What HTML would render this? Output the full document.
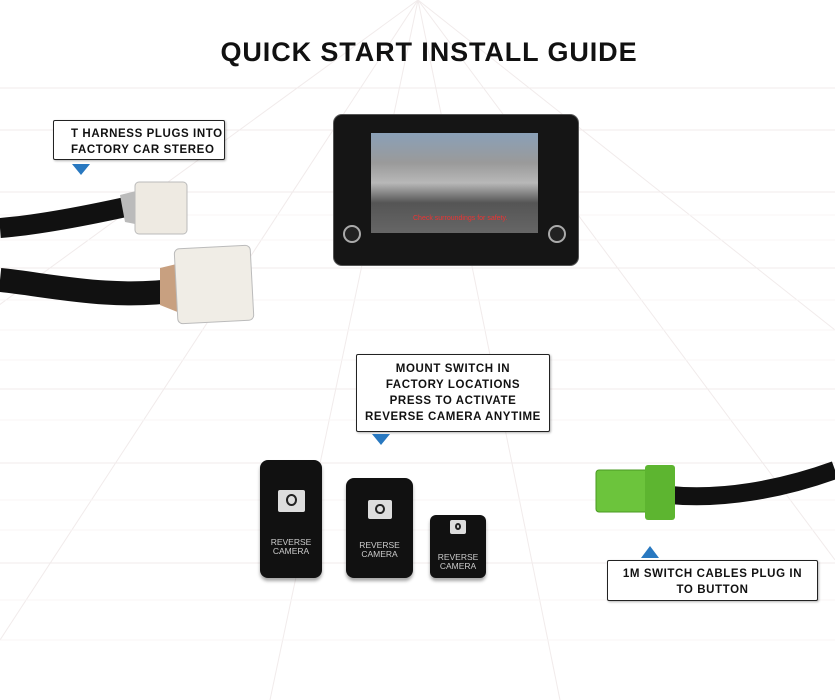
<!DOCTYPE html>
<html><head><meta charset="utf-8"><style>
body{margin:0;width:835px;height:700px;background:#fff;position:relative;overflow:hidden;font-family:"Liberation Sans",sans-serif}
.a{position:absolute}
.title{left:0;width:858px;top:37px;text-align:center;font-weight:900;font-size:27px;letter-spacing:0.9px;color:#111}
.box{position:absolute;background:#fff;border:1.5px solid #222;border-radius:2px;box-shadow:1px 1px 2px rgba(0,0,0,.3);font-weight:bold;font-size:11.5px;letter-spacing:.6px;color:#111;line-height:16px}
.tri{position:absolute;width:0;height:0;border-left:9px solid transparent;border-right:9px solid transparent}
.sw{position:absolute;background:#111;border-radius:8px;box-shadow:0 3px 3px rgba(0,0,0,.35);color:#ccc;font-size:8.5px;text-align:center;line-height:9px}
.cam{position:absolute;background:#ddd;border-radius:2px}
.cam:after{content:"";position:absolute;left:30%;top:20%;width:40%;height:55%;border:2px solid #222;border-radius:50%;box-sizing:border-box}
</style></head><body>
<svg class="a" style="left:0;top:0" width="835" height="700">
<g stroke="#f1ebeb" stroke-width="1">
<line x1="0" y1="88" x2="835" y2="88"/><line x1="0" y1="130" x2="835" y2="130"/>
<line x1="0" y1="192" x2="835" y2="192"/><line x1="0" y1="268" x2="835" y2="268"/>
<line x1="0" y1="389" x2="835" y2="389"/><line x1="0" y1="463" x2="835" y2="463"/>
<line x1="0" y1="563" x2="835" y2="563"/>
<line x1="418" y1="0" x2="0" y2="640"/><line x1="418" y1="0" x2="270" y2="700"/>
<line x1="418" y1="0" x2="-200" y2="450"/><line x1="418" y1="0" x2="560" y2="700"/>
<line x1="418" y1="0" x2="835" y2="560"/><line x1="418" y1="0" x2="835" y2="330"/>
</g>
<g stroke="#f8f5f5" stroke-width="1">
<line x1="0" y1="215" x2="835" y2="215"/><line x1="0" y1="240" x2="835" y2="240"/>
<line x1="0" y1="300" x2="835" y2="300"/><line x1="0" y1="330" x2="835" y2="330"/>
<line x1="0" y1="360" x2="835" y2="360"/><line x1="0" y1="420" x2="835" y2="420"/>
<line x1="0" y1="500" x2="835" y2="500"/><line x1="0" y1="530" x2="835" y2="530"/>
<line x1="0" y1="600" x2="835" y2="600"/><line x1="0" y1="640" x2="835" y2="640"/>
</g>
<!-- harness -->
<path d="M0 228 C40 225 90 215 135 205" stroke="#111" stroke-width="20" fill="none"/>
<path d="M0 280 C50 285 110 300 180 290" stroke="#111" stroke-width="24" fill="none"/>
<path d="M120 195 L140 190 L140 225 L125 222Z" fill="#bbb"/>
<path d="M160 268 L185 262 L185 315 L160 305Z" fill="#c8a080"/>
<rect x="135" y="182" width="52" height="52" rx="4" fill="#eeeae2" stroke="#bbb"/>
<rect x="176" y="247" width="76" height="75" rx="5" fill="#f0ede6" stroke="#bbb" transform="rotate(-3 214 284)"/>
<!-- green connector -->
<path d="M670 495 C720 500 780 490 835 470" stroke="#111" stroke-width="18" fill="none"/>
<rect x="596" y="470" width="72" height="42" rx="3" fill="#6cc43c" stroke="#4a9a22"/>
<rect x="645" y="465" width="30" height="55" rx="3" fill="#5db530"/>
</svg>
<div class="a title">QUICK START INSTALL GUIDE</div>

<div class="box" style="left:53px;top:120px;width:170px;height:38px;padding:0;"><div style="padding:5px 0 0 17px">T HARNESS PLUGS INTO<br>FACTORY CAR STEREO</div></div>
<div class="tri" style="left:72px;top:164px;border-top:11px solid #2878c0"></div>

<div class="box" style="left:356px;top:354px;width:192px;height:76px;text-align:center"><div style="padding-top:6px">MOUNT SWITCH IN<br>FACTORY LOCATIONS<br>PRESS TO ACTIVATE<br>REVERSE CAMERA ANYTIME</div></div>
<div class="tri" style="left:372px;top:434px;border-top:11px solid #2878c0"></div>

<div class="box" style="left:607px;top:560px;width:209px;height:39px;text-align:center"><div style="padding-top:5px">1M SWITCH CABLES PLUG IN<br>TO BUTTON</div></div>
<div class="tri" style="left:641px;top:546px;border-bottom:12px solid #2878c0"></div>

<!-- stereo -->
<div class="a" style="left:334px;top:115px;width:244px;height:150px;background:#151515;border-radius:8px;box-shadow:0 0 0 1px #555"></div>
<div class="a" style="left:371px;top:133px;width:167px;height:100px;background:linear-gradient(#8aa0b8 0,#9a9a9a 30%,#b8b8b8 50%,#555 70%,#666 100%)"></div>
<div class="a" style="left:413px;top:215px;color:#e33;font-size:7px">Check surroundings for safety.</div>
<div class="a" style="left:343px;top:225px;width:14px;height:14px;border-radius:50%;border:2px solid #aaa;background:#222"></div>
<div class="a" style="left:548px;top:225px;width:14px;height:14px;border-radius:50%;border:2px solid #aaa;background:#222"></div>

<!-- switches -->
<div class="sw" style="left:260px;top:460px;width:62px;height:118px"><div class="cam" style="left:18px;top:30px;width:27px;height:22px"></div><div style="position:absolute;top:78px;width:100%">REVERSE<br>CAMERA</div></div>
<div class="sw" style="left:346px;top:478px;width:67px;height:100px"><div class="cam" style="left:22px;top:22px;width:24px;height:19px"></div><div style="position:absolute;top:63px;width:100%">REVERSE<br>CAMERA</div></div>
<div class="sw" style="left:430px;top:515px;width:56px;height:63px;border-radius:6px"><div class="cam" style="left:20px;top:5px;width:16px;height:14px"></div><div style="position:absolute;top:38px;width:100%">REVERSE<br>CAMERA</div></div>
</body></html>
